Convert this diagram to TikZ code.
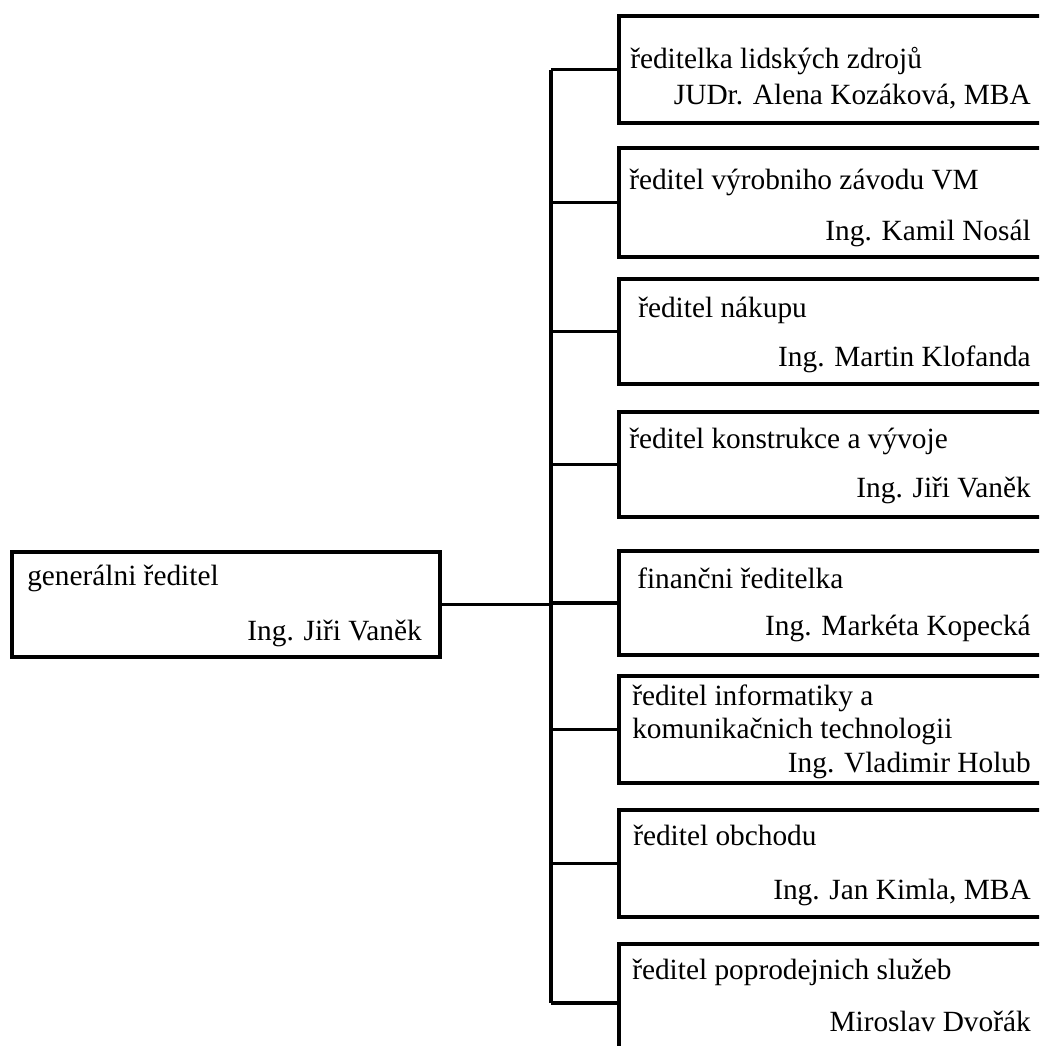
\documentclass[tikz,border=0pt]{standalone}
\usepackage{fontspec}
\setmainfont{Liberation Serif}
\usepackage{tikz}
\usetikzlibrary{positioning, calc}

\begin{document}
\begin{tikzpicture}[
    x=0.75pt, y=-0.75pt,
    orgbox/.style={rectangle, draw=black, line width=2.9pt, inner sep=0pt, outer sep=0pt,
                   anchor=north west, minimum width=#1},
    orgbox/.default=323.25pt,
    titletext/.style={anchor=base west, inner sep=0pt, font=\fontsize{22}{26}\selectfont},
    nametext/.style={anchor=base east, inner sep=0pt, font=\fontsize{22}{26}\selectfont},
    conn/.style={draw=black, line width=2.7pt},
]
    \clip (0,0) rectangle (1039,1046);
    \useasboundingbox (0,0) rectangle (1039,1046);

    % ── Coordinates: columns ──
    \def\colL{12}
    \def\colR{619}
    \def\nameR{1031}

    % ── GENERAL DIRECTOR ──
    \node[orgbox=321pt, minimum height=78.75pt] (gr) at (\colL, 552) {};
    \node[titletext] (gr-t) at (27, 585) {generálni ředitel};
    \node[nametext]  (gr-n) at (422, 640) {Ing. Jiři Vaněk};

    % ── DIRECTORS ──
    \node[orgbox, minimum height=80.25pt] (hr) at (\colR, 16) {};
    \node[titletext] (hr-t) at (630, 68) {ředitelka lidských zdrojů};
    \node[nametext]  (hr-n) at (\nameR, 104) {JUDr. Alena Kozáková, MBA};

    \node[orgbox, minimum height=81.75pt] (vm) at (\colR, 148) {};
    \node[titletext] (vm-t) at (629, 189) {ředitel výrobniho závodu VM};
    \node[nametext]  (vm-n) at (\nameR, 240) {Ing. Kamil Nosál};

    \node[orgbox, minimum height=78.75pt] (nk) at (\colR, 279) {};
    \node[titletext] (nk-t) at (638, 317) {ředitel nákupu};
    \node[nametext]  (nk-n) at (\nameR, 366) {Ing. Martin Klofanda};

    \node[orgbox, minimum height=78.75pt] (kv) at (\colR, 412) {};
    \node[titletext] (kv-t) at (629, 448) {ředitel konstrukce a vývoje};
    \node[nametext]  (kv-n) at (\nameR, 497) {Ing. Jiři Vaněk};

    \node[orgbox, minimum height=78pt] (fr) at (\colR, 551) {};
    \node[titletext] (fr-t) at (637, 588) {finančni ředitelka};
    \node[nametext]  (fr-n) at (\nameR, 635) {Ing. Markéta Kopecká};

    \node[orgbox, minimum height=80.25pt] (ikt) at (\colR, 676) {};
    \node[titletext] (ikt-t1) at (632, 705) {ředitel informatiky a};
    \node[titletext] (ikt-t2) at (632, 738) {komunikačnich technologii};
    \node[nametext]  (ikt-n)  at (\nameR, 772) {Ing. Vladimir Holub};

    \node[orgbox, minimum height=80.25pt] (ob) at (\colR, 810) {};
    \node[titletext] (ob-t) at (633, 845) {ředitel obchodu};
    \node[nametext]  (ob-n) at (\nameR, 899) {Ing. Jan Kimla, MBA};

    \node[orgbox, minimum height=88.5pt] (ps) at (\colR, 944) {};
    \node[titletext] (ps-t) at (632, 979) {ředitel poprodejnich služeb};
    \node[nametext]  (ps-n) at (\nameR, 1031) {Miroslav Dvořák};

    % ── CONNECTORS ──
    \coordinate (hub) at (551, 606);
    \draw[conn] (gr.east) -- (gr.east -| hub);
    \draw[conn] (hr.west -| hub) -- (ps.west -| hub);

    % Branches: trunk to each director
    \draw[conn] (hr.west -| hub) -- (hr.west);
    \draw[conn] (vm.west -| hub) -- (vm.west);
    \draw[conn] (nk.west -| hub) -- (nk.west);
    \draw[conn] (kv.west -| hub) -- (kv.west);
    \draw[conn] (fr.west -| hub) -- (fr.west);
    \draw[conn] (ikt.west -| hub) -- (ikt.west);
    \draw[conn] (ob.west -| hub) -- (ob.west);
    \draw[conn] (ps.west -| hub) -- (ps.west);

\end{tikzpicture}
\end{document}
